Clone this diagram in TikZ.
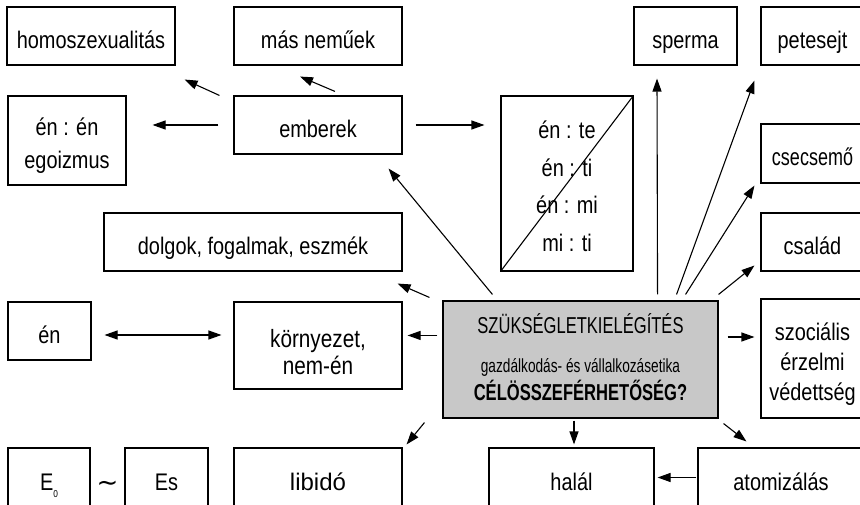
\documentclass[tikz,border=0pt]{standalone}
\usepackage{fontspec}
\setmainfont{Liberation Sans}
\newfontfamily\nf[FakeStretch=0.83]{Liberation Sans}
\newfontfamily\nfn[FakeStretch=0.75]{Liberation Sans}
\newfontfamily\nfw[FakeStretch=1.0]{Liberation Sans}
\newfontfamily\cf[FakeStretch=0.72]{Liberation Sans}
\newfontfamily\dvf{DejaVu Sans}
\usetikzlibrary{arrows.meta,calc}
\definecolor{boxgray}{RGB}{200,200,200}
\newcommand\fstrut[1]{\rule{0pt}{#1}}
\newcommand\lstrut[1]{\rule[-#1]{0pt}{#1}}
\begin{document}
\begin{tikzpicture}[x=1pt,y=-1pt,
  box/.style={draw, line width=1.1pt, inner sep=0pt, align=center,
    font=\nf\fontsize{24}{33}\selectfont},
  one/.style={text height=25pt, text depth=0pt},
  arr/.style={line width=1.1pt, -{Triangle[length=13pt,width=9pt]}},
  darr/.style={line width=1.1pt, {Triangle[length=13pt,width=9pt]}-{Triangle[length=13pt,width=9pt]}},
]
\useasboundingbox (0,0) rectangle (860,505);
\clip (0,0) rectangle (860,505);

% top row
\node[box, one, minimum width=168pt, minimum height=58pt] (homo) at (91,36) {homoszexualitás};
\node[box, one, minimum width=168pt, minimum height=58pt] (mas) at (318,36) {más neműek};
\node[box, one, minimum width=103pt, minimum height=58pt] (sperma) at (685.5,36) {sperma};
\node[box, one, minimum width=103pt, minimum height=58pt] (pete) at (812.5,36) {petesejt};

% second row
\node[box, minimum width=118pt, minimum height=89pt] (enen) at (67,140.5) {\fstrut{29pt}én : én\\egoizmus\lstrut{6pt}};
\node[box, one, minimum width=168pt, minimum height=58pt] (emb) at (318,125) {emberek};
\node[box, minimum width=132pt, minimum height=175pt, font=\nf\fontsize{24}{37.5}\selectfont] (ente) at (567,183.5) {\fstrut{29pt}én : te\\én : ti\\én : mi\\mi : ti\lstrut{6pt}};
\node[box, one, minimum width=103pt, minimum height=59pt, font=\nfn\fontsize{24}{33}\selectfont] (csec) at (812.5,153.5) {csecsemő};

% third row
\node[box, one, minimum width=298pt, minimum height=58pt] (dolg) at (253,242) {dolgok, fogalmak, eszmék};
\node[box, one, minimum width=103pt, minimum height=58pt] (csal) at (812.5,242) {család};

% fourth row
\node[box, one, minimum width=83pt, minimum height=58pt] (en) at (49.5,331) {én};
\node[box, minimum width=168pt, minimum height=87pt, font=\nf\fontsize{25}{27}\selectfont] (korny) at (318,345.5) {\fstrut{37pt}környezet,\\nem-én\lstrut{6pt}};
\node[box, minimum width=275pt, minimum height=117pt, fill=boxgray, font=\cf\fontsize{23}{28}\selectfont] (cent) at (580.5,359.5)
  {\fstrut{23pt}SZÜKSÉGLETKIELÉGÍTÉS\\[10.7pt]{\fontsize{19}{28}\selectfont gazdálkodás- és vállalkozásetika}\\{\bfseries\fontsize{23}{28}\selectfont CÉLÖSSZEFÉRHETŐSÉG?}\lstrut{8.7pt}};
\node[box, minimum width=103pt, minimum height=119pt, font=\nf\fontsize{24}{30}\selectfont] (szoc) at (812.5,358.5) {\fstrut{29pt}szociális\\érzelmi\\védettség\lstrut{6pt}};

% bottom row
\node[box, one, minimum width=82pt, minimum height=59pt] (e0) at (49,477.5) {E\raisebox{-7.5pt}{\fontsize{10}{10}\selectfont 0}};
\node[font=\dvf\fontsize{26}{26}\selectfont, inner sep=0pt, text height=10pt, text depth=0pt] (tl) at (107.5,486) {∼};
\node[box, one, minimum width=83pt, minimum height=59pt] (es) at (166.5,477.5) {Es};
\node[box, one, minimum width=168pt, minimum height=59pt, font=\nfw\fontsize{24}{33}\selectfont] (lib) at (318,477.5) {libidó};
\node[box, one, minimum width=165pt, minimum height=59pt] (halal) at (571.5,477.5) {halál};
\node[box, one, minimum width=166pt, minimum height=59pt] (atom) at (781,477.5) {atomizálás};

% diagonal in én:te box
\draw[line width=1.1pt] (ente.north east) -- (ente.south west);

% connectors
\draw[arr] ($(emb.north west)+(-14,0)$) -- ($(homo.south east)+(9,14)$);
\draw[arr] ($(emb.north)+(17,-4)$) -- ($(mas.south)+(-18,11)$);
\draw[arr] ($(emb.west)+(-15,0)$) -- ($(enen.east|-emb.west)+(26,0)$);
\draw[arr] ($(emb.east)+(13,0)$) -- ($(ente.west|-emb.east)+(-16,0)$);
\draw[arr] ($(cent.north west)+(50,-6)$) -- ($(emb.south east)+(-14,14)$);
\draw[arr] ($(cent.north west)+(-13,-3)$) -- ($(dolg.south east)+(-5,12)$);
\draw[arr] ($(cent.north west)+(-5,35)$) -- ($(korny.north east)+(5,34)$);
\draw[darr] ($(en.east)+(13,4)$) -- ($(korny.west)+(-12,-10.5)$);
\draw[arr] ($(cent.south west)+(-18,4)$) -- ($(lib.north east)+(4,-3)$);
\draw[arr] ($(cent.north east)+(-61,-6)$) -- ($(sperma.south)+(-28.5,13)$);
\draw[arr] ($(cent.north east)+(-42,-6)$) -- ($(pete.south west)+(-6,15)$);
\draw[arr] ($(cent.north east)+(-33,-6)$) -- ($(csec.south west)+(-6,2)$);
\draw[arr] ($(cent.north east)+(0,-6)$) -- ($(csal.south west)+(-6,-6)$);
\draw[arr] ($(cent.east)+(9,-22.5)$) -- ($(szoc.west)+(-6,-21.5)$);
\draw[arr] ($(cent.south)+(-6.5,2)$) -- ($(halal.north)+(2.5,-3)$);
\draw[arr] ($(cent.south east)+(5,5)$) -- ($(atom.north west)+(49,-6)$);
\draw[arr] ($(atom.west)+(-1,0)$) -- ($(halal.east)+(3,0)$);
\end{tikzpicture}
\end{document}
